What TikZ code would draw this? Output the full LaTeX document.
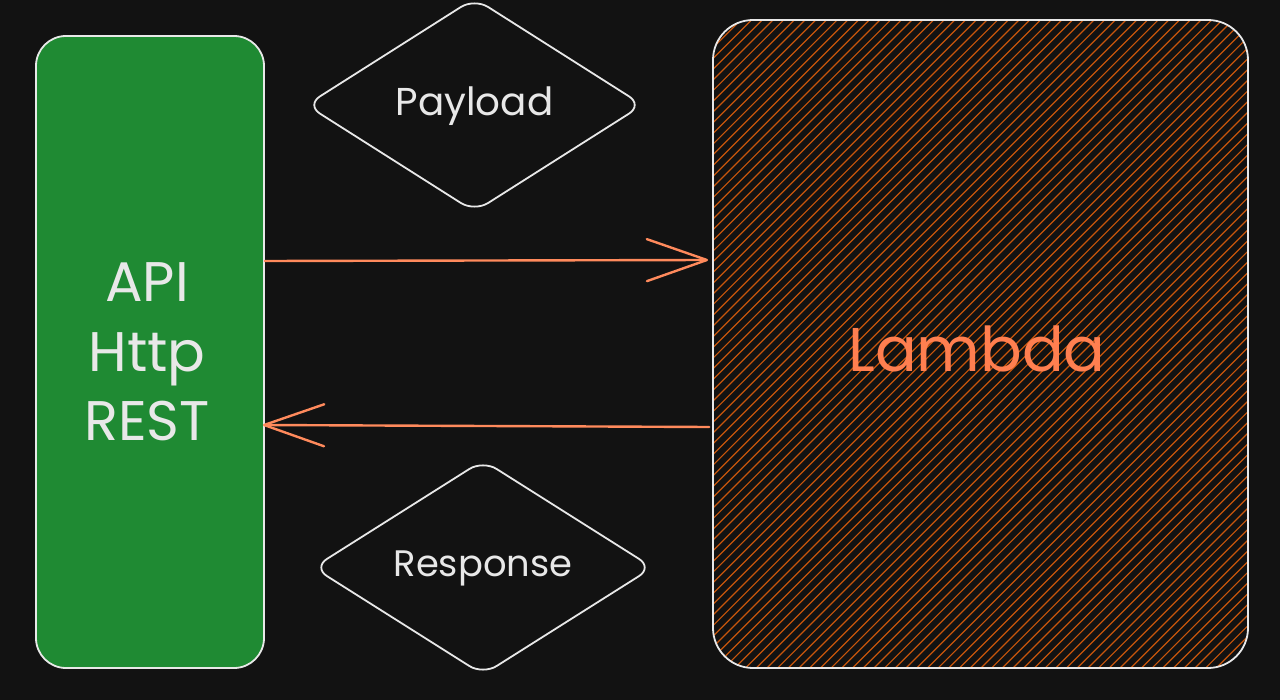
\documentclass[tikz,border=0pt]{standalone}
\usepackage{fontspec}
\setmainfont{Poppins}
\usetikzlibrary{arrows.meta,shapes.geometric}
\definecolor{bg}{HTML}{121212}
\definecolor{strokec}{HTML}{E8E8E8}
\definecolor{apigreen}{HTML}{1F8A33}
\definecolor{arrowc}{HTML}{FF8A5C}
\definecolor{hatchc}{HTML}{C8560C}
\definecolor{lambdatext}{HTML}{FF7F50}
\tikzset{
  boxshape/.style={draw=strokec, line width=1.8bp, inner sep=0pt},
  dia/.style={diamond, draw=strokec, line width=1.8bp, inner sep=0pt, rounded corners=16bp,
    text=strokec, font=\fontsize{39}{41}\selectfont},
  arr/.style={draw=arrowc, line width=2.4bp, line cap=round,
    -{Straight Barb[length=60bp,width=42bp,round]}},
  hatchline/.style={draw=hatchc, line width=1.2bp},
}
\begin{document}
\begin{tikzpicture}[x=1bp,y=-1bp]
\fill[bg] (0,0) rectangle (1280,700);
\useasboundingbox (0,0) rectangle (1280,700);

% API box
\node[boxshape, fill=apigreen, rounded corners=30bp, minimum width=228bp, minimum height=632bp] (api) at (150,352) {};
\node[align=center, text=strokec, font=\fontsize{56}{70}\selectfont] (apitext) at (147,352) {API\\Http\\REST};

% Lambda box with hachure
\begin{scope}
  \clip[rounded corners=40bp] (713,20) rectangle (1248,668);
  \foreach \x in {50,60.7,...,1260} {
    \draw[hatchline] (\x,668) -- ++(648,-648);
  }
\end{scope}
\node[boxshape, rounded corners=40bp, minimum width=535bp, minimum height=648bp] (lambda) at (980.5,344) {};
\node[text=lambdatext, font=\fontsize{62}{64}\selectfont] (lambdatext) at (977,349) {Lambda};

% diamonds
\node[dia, minimum width=337bp, minimum height=214bp] (payload) at (474.5,105) {};
\node[text=strokec, font=\fontsize{39}{41}\selectfont] (payloadtext) at (474.5,106) {Payload};
\node[dia, minimum width=340bp, minimum height=215bp] (response) at (483,567.5) {};
\node[text=strokec, font=\fontsize{37}{40}\selectfont] (responsetext) at (483,568) {Response};

% arrows
\draw[arr] ([yshift=91bp]api.east) -- ([yshift=84bp,xshift=-4bp]lambda.west);
\draw[arr] ([yshift=-83bp,xshift=-3bp]lambda.west) -- ([yshift=-73bp,xshift=-2bp]api.east);
\end{tikzpicture}
\end{document}
